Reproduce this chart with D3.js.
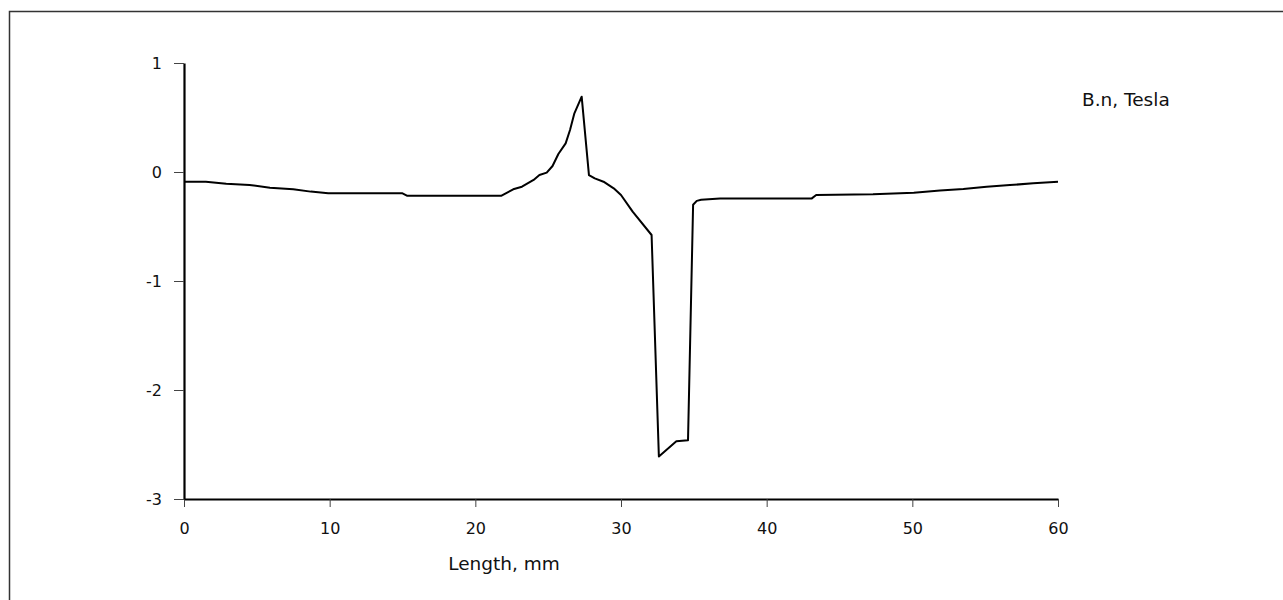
<!DOCTYPE html>
<html>
<head>
<meta charset="utf-8">
<script src="https://cdn.jsdelivr.net/npm/d3@7"></script>
<style>
  html, body { margin: 0; padding: 0; background: #fff; }
  svg { display: block; }
  text { font-family: "DejaVu Sans", Verdana, sans-serif; fill: #111; }
</style>
</head>
<body>
<svg id="chart" width="1283" height="600"></svg>
<script>
// Data
const lengthMm = [0, 1.5, 2.9, 4.5, 5.9, 7.5, 8.7, 9.9, 15.0, 15.3, 21.8, 22.6, 23.2, 24.0, 24.4, 24.9, 25.3, 25.7, 26.2, 26.5, 26.8, 27.3, 27.8, 28.2, 28.8, 29.5, 30.0, 30.8, 32.1, 32.6, 33.8, 34.6, 34.95, 35.2, 35.5, 36.8, 43.1, 43.4, 47.3, 50.1, 51.9, 53.5, 55.1, 56.7, 58.3, 60];
const bnTesla = [-0.089, -0.089, -0.107, -0.119, -0.144, -0.159, -0.18, -0.196, -0.196, -0.217, -0.217, -0.159, -0.135, -0.073, -0.028, -0.006, 0.055, 0.165, 0.263, 0.385, 0.538, 0.691, -0.028, -0.058, -0.089, -0.15, -0.211, -0.364, -0.578, -2.61, -2.47, -2.46, -0.30, -0.265, -0.255, -0.242, -0.242, -0.211, -0.205, -0.19, -0.17, -0.155, -0.135, -0.12, -0.104, -0.089];
const xTicks = [0, 10, 20, 30, 40, 50, 60];
const yTicks = [-3, -2, -1, 0, 1];
const xTitle = "Length, mm";
const seriesName = "B.n, Tesla";

const svg = d3.select("#chart");

// outer frame
svg.append("rect")
  .attr("x", 9.5).attr("y", 11.5)
  .attr("width", 1300).attr("height", 620)
  .attr("fill", "none").attr("stroke", "#333").attr("stroke-width", 1.5);

const x = d3.scaleLinear().domain([0, 60]).range([184, 1058]);
const y = d3.scaleLinear().domain([-3, 1]).range([499, 63]);
const fmt = d => String(d);

const xAxis = svg.append("g")
  .attr("transform", "translate(0,499)")
  .call(d3.axisBottom(x).tickValues(xTicks).tickFormat(fmt).tickSize(8).tickSizeOuter(0).tickPadding(15.5));
xAxis.select(".domain").attr("stroke", "#000").attr("stroke-width", 2.2);
xAxis.selectAll(".tick line").attr("stroke", "#444").attr("stroke-width", 1);
xAxis.selectAll(".tick text").attr("font-size", 16).attr("font-family", "DejaVu Sans").attr("fill", "#111");

const yAxis = svg.append("g")
  .attr("transform", "translate(184,0)")
  .call(d3.axisLeft(y).tickValues(yTicks).tickFormat(fmt).tickSize(10).tickSizeOuter(0).tickPadding(12));
yAxis.select(".domain").attr("stroke", "#000").attr("stroke-width", 2.2);
yAxis.selectAll(".tick line").attr("stroke", "#444").attr("stroke-width", 1);
yAxis.selectAll(".tick text").attr("font-size", 16).attr("font-family", "DejaVu Sans").attr("fill", "#111");

// data line
const pts = lengthMm.map((d, i) => [d, bnTesla[i]]);
svg.append("path")
  .datum(pts)
  .attr("fill", "none")
  .attr("stroke", "#000")
  .attr("stroke-width", 2)
  .attr("stroke-linejoin", "round")
  .attr("d", d3.line().x(d => x(d[0])).y(d => y(d[1])));

// axis title
svg.append("text")
  .attr("x", 504).attr("y", 570)
  .attr("text-anchor", "middle")
  .attr("font-size", 18.5)
  .text(xTitle);

// series label
svg.append("text")
  .attr("x", 1082).attr("y", 106)
  .attr("font-size", 18.5)
  .text(seriesName);
</script>
</body>
</html>
